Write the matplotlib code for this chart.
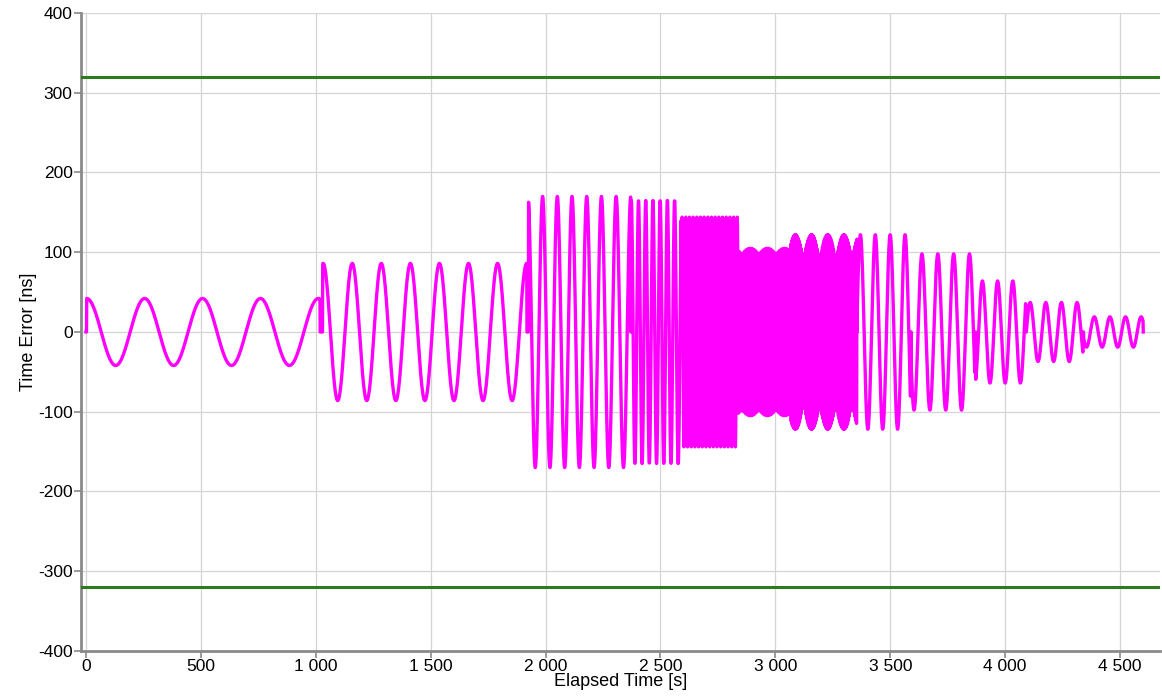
import numpy as np
import matplotlib
matplotlib.use("Agg")
import matplotlib.pyplot as plt

# Wander segments: time of first peak, start/end of the
# segment [s], amplitude [ns] and the tone period [s] (short periods alias
# against the 1 s sampling, as in the capture)
seg_start = [3, 1030, 1926, 2373, 2594, 2843, 3066, 3357, 3592, 3872, 4092, 4342]
seg_end = [1018, 1918, 2370, 2590, 2840, 3064, 3355, 3588, 3868, 4089, 4338, 4600]
seg_peak = [3, 1032, 1923, 2373, 2594, 2891, 3087, 3370, 3638, 3901, 4109, 4388]
seg_amp = [42, 86, 170, 165, 144, 105, 122, 122, 98, 64, 37, 19]
seg_period = [252, 126.5, 64, 31.4, 16, 7.894, 3.944, 0.9848, 0.9857, 0.9851, 0.9855, 0.9855]

mask_limit = 320
sample_step = 1.0
duration = 4601

xticks = list(range(0, 5000, 500))
xticklabels = ["0", "500", "1 000", "1 500", "2 000", "2 500", "3 000", "3 500", "4 000", "4 500"]
yticks = list(range(-400, 500, 100))

t = np.arange(0, duration + sample_step, sample_step)
te = np.zeros_like(t)
for s, e, p0, a, per in zip(seg_start, seg_end, seg_peak, seg_amp, seg_period):
    sel = (t >= s) & (t <= e)
    te[sel] = a * np.cos(2 * np.pi * (t[sel] - p0) / per)

plt.rcParams["font.family"] = ["Liberation Sans", "DejaVu Sans"]
plt.rcParams["axes.unicode_minus"] = False

fig = plt.figure(figsize=(11.62, 6.99), dpi=100)
ax = fig.add_axes([0.0697, 0.0687, 0.9286, 0.9127])

ax.plot(t, te, color="#ff00ff", lw=2.4, zorder=3)
ax.axhline(mask_limit, color="#2f7a1f", lw=2.2, zorder=4)
ax.axhline(-mask_limit, color="#2f7a1f", lw=2.2, zorder=4)

ax.set_xlim(-22, 4674)
ax.set_ylim(-400, 400)
ax.set_xticks(xticks)
ax.set_xticklabels(xticklabels)
ax.set_yticks(yticks)
ax.grid(True, color="#d4d4d4", lw=0.9)
ax.set_axisbelow(True)

for side in ("top", "right"):
    ax.spines[side].set_visible(False)
for side in ("left", "bottom"):
    ax.spines[side].set_color("#8a8a8a")
    ax.spines[side].set_linewidth(2.0)
ax.tick_params(colors="#8a8a8a", labelcolor="black", labelsize=12.5, length=5, width=1.2, pad=1)

ax.set_xlabel("Elapsed Time [s]", fontsize=13, labelpad=-1)
ax.set_ylabel("Time Error [ns]", fontsize=13, labelpad=1)

fig.savefig("out.png", dpi=100)
